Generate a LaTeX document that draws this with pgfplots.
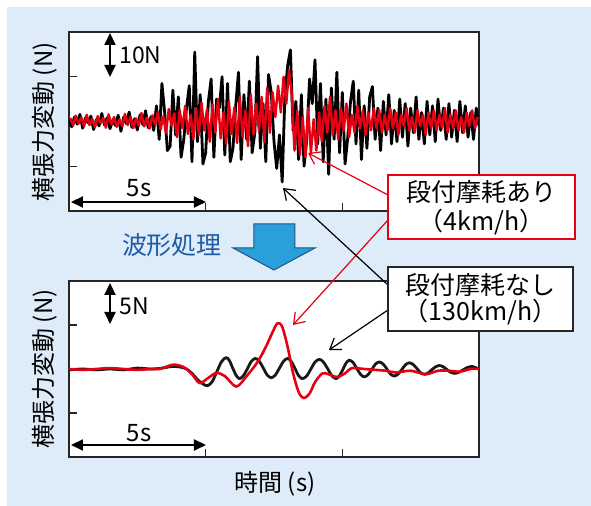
\documentclass[border=0pt]{standalone}
\usepackage{pgfplots}
\pgfplotsset{compat=1.18}
\usepackage{fontspec}
\setmainfont{Noto Sans CJK JP}
\usetikzlibrary{arrows.meta}
\definecolor{bgblue}{HTML}{DEEBF8}
\definecolor{jred}{HTML}{E60012}
\definecolor{arrowblue}{HTML}{29A0DA}
\definecolor{arrowedge}{HTML}{1B5584}
\definecolor{txtblue}{HTML}{1D5CA6}

\pgfplotstableread{
t v
0.0 0.5
0.1 -1.2
0.2 1.0
0.3 -0.6
0.4 1.6
0.5 -1.5
0.6 0.8
0.7 -0.3
0.8 1.2
0.9 -1.8
1.0 0.4
1.1 -1.0
1.2 1.8
1.3 -0.8
1.4 0.9
1.5 -1.6
1.6 0.2
1.7 -0.9
1.8 1.4
1.9 -2.2
2.0 1.0
2.1 -0.5
2.2 2.1
2.3 -1.3
2.4 0.6
2.5 -1.9
2.6 1.5
2.7 -0.7
2.8 2.4
2.9 -1.4
3.0 1.1
3.1 -2.0
3.2 3.5
3.3 -4.0
3.4 8.5
3.5 2.0
3.6 -6.5
3.7 -5.5
3.8 7.0
3.9 -3.0
4.0 5.5
4.1 -8.0
4.2 -4.0
4.3 3.0
4.4 8.0
4.5 -9.0
4.6 15.5
4.7 -4.5
4.8 6.0
4.9 -9.5
5.0 -7.0
5.1 4.5
5.2 9.5
5.3 -8.0
5.4 5.0
5.5 3.0
5.6 10.0
5.7 -7.5
5.8 8.5
5.9 -9.0
6.0 -6.0
6.1 3.5
6.2 11.0
6.3 -8.5
6.4 6.0
6.5 -4.0
6.6 9.0
6.7 -7.0
6.8 -2.5
6.9 14.5
7.0 -6.0
7.1 4.0
7.2 -9.0
7.3 10.5
7.4 6.5
7.5 -4.5
7.6 -10.5
7.7 -3.0
7.8 -13.5
7.9 6.0
8.0 12.5
8.1 16.0
8.2 -2.0
8.3 4.5
8.4 -8.5
8.5 6.0
8.6 -10.0
8.7 -4.0
8.8 9.5
8.9 4.0
9.0 13.8
9.1 -5.0
9.2 8.5
9.3 -9.0
9.4 5.0
9.5 -11.8
9.6 7.5
9.7 -4.0
9.8 11.0
9.9 -7.0
10.0 6.5
10.1 -9.5
10.2 -3.5
10.3 4.5
10.4 9.0
10.5 -5.0
10.6 7.0
10.7 -8.5
10.8 3.5
10.9 -6.0
11.0 5.5
11.1 7.8
11.2 -4.0
11.3 3.0
11.4 -6.5
11.5 4.5
11.6 -3.0
11.7 6.0
11.8 -5.0
11.9 2.5
12.0 -4.5
12.1 5.0
12.2 -3.5
12.3 4.0
12.4 -5.5
12.5 3.0
12.6 -2.5
12.7 5.5
12.8 -4.0
12.9 2.0
13.0 -5.0
13.1 4.5
13.2 -3.0
13.3 3.5
13.4 -4.5
13.5 5.0
13.6 -2.0
13.7 3.0
13.8 -4.0
13.9 4.0
14.0 -3.5
14.1 2.5
14.2 -4.5
14.3 4.5
14.4 -2.5
14.5 3.5
14.6 -3.5
14.7 2.0
14.8 -4.0
14.9 3.0
15.0 -1.0
}\topblack

\pgfplotstableread{
t v
0.05 0.8
0.15 -0.9
0.25 1.3
0.35 -0.5
0.45 0.9
0.55 -1.1
0.65 1.5
0.75 -0.8
0.85 0.6
0.95 -1.3
1.05 1.2
1.15 -0.4
1.25 0.8
1.35 -1.4
1.45 1.6
1.55 -0.6
1.65 1.0
1.75 -1.2
1.85 0.5
1.95 -1.0
2.05 1.7
2.15 -0.8
2.25 1.1
2.35 -1.5
2.45 0.7
2.55 -0.9
2.65 1.9
2.75 -1.1
2.85 0.9
2.95 -1.6
3.05 1.4
3.15 -0.7
3.25 2.2
3.35 -1.8
3.45 1.2
3.55 -2.6
3.65 2.8
3.75 -1.0
3.85 1.8
3.95 -3.5
4.05 2.5
4.15 -1.5
4.25 3.5
4.35 -2.8
4.45 1.5
4.55 -4.0
4.65 3.0
4.75 -3.0
4.85 4.2
4.95 -2.0
5.05 2.8
5.15 -4.5
5.25 3.8
5.35 -2.5
5.45 5.0
5.55 -3.8
5.65 2.0
5.75 -5.0
5.85 4.5
5.95 -2.8
6.05 3.2
6.15 -4.8
6.25 5.5
6.35 -3.5
6.45 2.5
6.55 -5.5
6.65 6.0
6.75 -3.0
6.85 4.0
6.95 -2.0
7.05 5.5
7.15 -4.5
7.25 7.5
7.35 -2.5
7.45 6.5
7.55 1.0
7.65 8.0
7.75 2.0
7.85 10.0
7.95 4.0
8.05 11.5
8.15 6.0
8.25 -6.5
8.35 2.5
8.45 -7.5
8.55 1.0
8.65 -8.0
8.75 3.0
8.85 -7.0
8.95 0.5
9.05 -6.5
9.15 2.0
9.25 -4.5
9.35 3.5
9.45 -2.5
9.55 5.5
9.65 -3.0
9.75 2.5
9.85 -4.0
9.95 3.0
10.05 -2.0
10.15 4.0
10.25 -3.5
10.35 1.5
10.45 -2.5
10.55 3.5
10.65 -1.5
10.75 2.5
10.85 -3.0
10.95 2.0
11.05 -2.0
11.15 3.0
11.25 -1.5
11.35 2.5
11.45 -2.5
11.55 1.5
11.65 -2.0
11.75 3.0
11.85 -1.5
11.95 2.0
12.05 -3.0
12.15 1.5
12.25 -1.0
12.35 3.0
12.45 -2.0
12.55 1.0
12.65 -2.5
12.75 2.5
12.85 -1.0
12.95 1.5
13.05 -3.0
13.15 2.0
13.25 -1.5
13.35 2.5
13.45 -2.0
13.55 1.5
13.65 -1.5
13.75 3.0
13.85 -2.5
13.95 1.5
14.05 -1.5
14.15 2.5
14.25 -2.0
14.35 1.0
14.45 -2.5
14.55 2.0
14.65 -1.0
14.75 2.5
14.85 -1.5
14.95 1.0
}\topred

\pgfplotstableread{
t v
0.0 -0.1
0.5 0.0
1.0 -0.1
1.5 0.0
2.0 -0.1
2.5 0.1
3.0 0.0
3.4 0.1
3.8 0.3
4.1 0.2
4.3 0.0
4.5 -0.5
4.7 -1.2
4.9 -1.7
5.07 -1.9
5.24 -1.43
5.41 -0.3
5.58 0.83
5.75 1.3
5.87 0.95
5.99 0.1
6.12 -0.75
6.24 -1.1
6.38 -0.76
6.53 0.05
6.67 0.86
6.82 1.2
6.96 0.88
7.11 0.1
7.25 -0.68
7.4 -1.0
7.55 -0.68
7.7 0.1
7.85 0.88
8.0 1.2
8.13 0.86
8.27 0.05
8.4 -0.76
8.54 -1.1
8.7 -0.78
8.85 0.0
9.0 0.78
9.16 1.1
9.31 0.78
9.47 0.0
9.62 -0.78
9.77 -1.1
9.89 -0.79
10.02 -0.05
10.14 0.69
10.26 1.0
10.4 0.72
10.53 0.05
10.67 -0.62
10.8 -0.9
10.94 -0.65
11.08 -0.05
11.21 0.55
11.35 0.8
11.49 0.57
11.63 0.0
11.76 -0.57
11.9 -0.8
12.04 -0.58
12.18 -0.05
12.31 0.48
12.45 0.7
12.59 0.51
12.73 0.05
12.86 -0.41
13.0 -0.6
13.14 -0.45
13.27 -0.1
13.41 0.25
13.54 0.4
13.68 0.27
13.82 -0.05
13.96 -0.37
14.1 -0.5
14.26 -0.38
14.42 -0.1
14.58 0.18
14.74 0.3
15.0 0.0
}\botblack

\pgfplotstableread{
t v
0.0 0.0
0.5 -0.1
1.0 0.0
1.5 0.1
2.0 0.0
2.5 -0.1
3.0 0.0
3.3 0.0
3.6 0.3
3.85 0.5
4.2 0.2
4.5 -0.6
4.78 -1.6
5.1 -1.0
5.39 -0.45
5.7 -0.8
6.12 -2.0
6.5 -0.8
6.9 0.8
7.2 2.5
7.45 4.2
7.63 5.2
7.8 4.8
8.0 2.5
8.2 -0.5
8.4 -2.6
8.58 -3.3
8.8 -2.8
9.0 -1.5
9.27 -0.5
9.5 -0.6
9.8 -0.9
10.1 -0.5
10.35 0.1
10.8 0.0
11.2 -0.1
11.6 -0.2
11.96 -0.4
12.5 -0.2
13.05 -0.6
13.5 -0.2
13.9 -0.2
14.3 -0.3
14.7 0.0
15.0 0.0
}\botred

\pgfplotsset{panel/.style={
  scale only axis, width=205pt, xmin=0, xmax=15,
  xtick={5,10}, xticklabels={}, yticklabels={},
  tick align=inside, xtick pos=bottom, ytick pos=left,
  major tick length=4pt,
  axis line style={black!85, line width=0.7pt},
  every tick/.style={black!85, line width=0.7pt},
  axis background/.style={fill=white},
  anchor=north west, clip=true}}

\begin{document}
\begin{tikzpicture}
\useasboundingbox (0,0) rectangle (295.5pt,-253pt);
\fill[white] (0,0) rectangle (295.5pt,-253pt);
\fill[bgblue] (3.5pt,-3.5pt) rectangle (295.5pt,-253pt);

\begin{axis}[panel, at={(34.5pt,-16pt)}, height=89.5pt,
  ymin=-20, ymax=20, ytick={-10,10}]
\addplot[black, line width=1.4pt, line join=round] table[x=t,y=v] {\topblack};
\addplot[jred, line width=1.2pt, line join=round] table[x=t,y=v] {\topred};
\end{axis}

\begin{axis}[panel, at={(34.5pt,-140.5pt)}, height=88pt,
  ymin=-10, ymax=10, ytick={-5,5}]
\addplot[black!90, line width=1.4pt, line join=round, smooth] table[x=t,y=v] {\botblack};
\addplot[jred, line width=1.3pt, line join=round, smooth] table[x=t,y=v] {\botred};
\end{axis}

\begin{scope}[x=0.5pt,y=-0.5pt]
% scale arrows
\draw[line width=1pt, {Triangle[width=5.5pt,length=6pt]}-{Triangle[width=5.5pt,length=6pt]}] (110,33) -- (110,77);
\node[anchor=west, inner sep=0, font=\fontsize{11.5}{13}\selectfont] at (119,55) {10N};
\draw[line width=1pt, {Triangle[width=5.5pt,length=6pt]}-{Triangle[width=5.5pt,length=6pt]}] (71,202) -- (206,202);
\node[inner sep=0, font=\fontsize{12}{14}\selectfont] at (139,188) {5s};

\draw[line width=1pt, {Triangle[width=5.5pt,length=6pt]}-{Triangle[width=5.5pt,length=6pt]}] (110,283) -- (110,324);
\node[anchor=west, inner sep=0, font=\fontsize{11.5}{13}\selectfont] at (119,306) {5N};
\draw[line width=1pt, {Triangle[width=5.5pt,length=6pt]}-{Triangle[width=5.5pt,length=6pt]}] (71,445) -- (206,445);
\node[inner sep=0, font=\fontsize{12}{14}\selectfont] at (139,433) {5s};

% axis labels
\node[rotate=90, inner sep=0, font=\fontsize{12}{14}\selectfont] at (45,122) {横張力変動 (N)};
\node[rotate=90, inner sep=0, font=\fontsize{12}{14}\selectfont] at (45,369) {横張力変動 (N)};
\node[inner sep=0, font=\fontsize{12}{14}\selectfont] at (275,484) {時間 (s)};

% processing arrow
\filldraw[fill=arrowblue, draw=arrowedge, line width=0.5pt]
  (254,224) -- (295,224) -- (295,248) -- (315,248) -- (274,270) -- (233,248) -- (254,248) -- cycle;
\node[inner sep=0, text=txtblue, font=\fontsize{12.5}{15}\selectfont] at (172,245) {波形処理};

% leader lines
\draw[jred, line width=0.6pt, -{Straight Barb[length=5pt,width=7pt]}] (388,195) -- (308,153);
\draw[jred, line width=0.6pt, -{Straight Barb[length=5pt,width=7pt]}] (388,220) -- (293,325);
\draw[black, line width=0.6pt, -{Straight Barb[length=5pt,width=7pt]}] (388,285) -- (283,188);
\draw[black, line width=0.6pt, -{Straight Barb[length=5pt,width=7pt]}] (388,310) -- (329,350);

% callout boxes
\filldraw[fill=white, draw=jred, line width=0.8pt] (388,175) rectangle (575,239);
\node[inner sep=0, font=\fontsize{12.5}{15}\selectfont] at (481.5,192) {段付摩耗あり};
\node[inner sep=0, font=\fontsize{12.5}{15}\selectfont] at (481.5,222) {（4km/h）};
\filldraw[fill=white, draw=black!85, line width=0.8pt] (388,267) rectangle (573,331);
\node[inner sep=0, font=\fontsize{12.5}{15}\selectfont] at (480.5,285) {段付摩耗なし};
\node[inner sep=0, font=\fontsize{12.5}{15}\selectfont] at (480.5,312) {（130km/h）};
\end{scope}
\end{tikzpicture}
\end{document}
